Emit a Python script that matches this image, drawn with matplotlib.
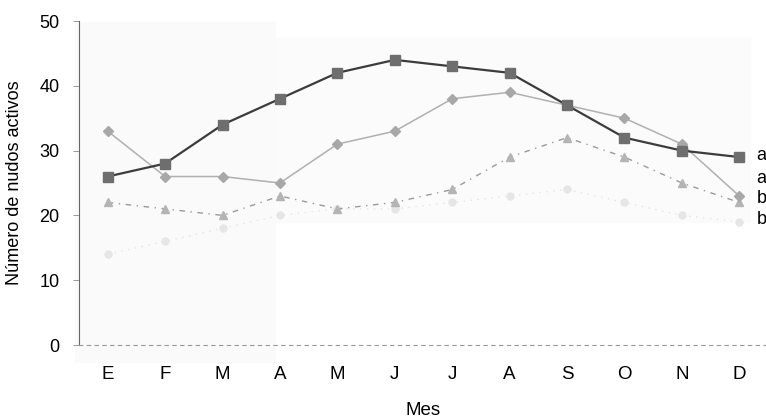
import matplotlib.pyplot as plt
from matplotlib.patches import Rectangle

meses = ['E', 'F', 'M', 'A', 'M', 'J', 'J', 'A', 'S', 'O', 'N', 'D']

# series
serie_cuadros = [26, 28, 34, 38, 42, 44, 43, 42, 37, 32, 30, 29]
serie_rombos = [33, 26, 26, 25, 31, 33, 38, 39, 37, 35, 31, 23]
serie_triang = [22, 21, 20, 23, 21, 22, 24, 29, 32, 29, 25, 22]
serie_palida = [14, 16, 18, 20, 21, 21, 22, 23, 24, 22, 20, 19]
letras = ['a', 'a', 'b', 'b']

plt.rcParams['font.family'] = ['Liberation Sans', 'DejaVu Sans']

fig = plt.figure(figsize=(7.66, 4.18), dpi=100)
W, H = 766, 418

# faint grey of the scan behind the plot
fig.patches.append(Rectangle((75 / W, 1 - 362 / H), 200 / W, 340 / H,
                             transform=fig.transFigure, color='#fafafa', zorder=-5))
fig.patches.append(Rectangle((275 / W, 1 - 222 / H), 475 / W, 184 / H,
                             transform=fig.transFigure, color='#fbfbfb', zorder=-5))

ax = fig.add_axes([79 / W, 1 - 345 / H, 689 / W, 324 / H])
ax.patch.set_alpha(0)

x = list(range(len(meses)))
ax.plot(x, serie_palida, color='#e4e4e4', lw=1.0, ls=(0, (1, 4)),
        marker='o', ms=5, mfc='#e6e6e6', mec='#e6e6e6', zorder=2)
ax.plot(x, serie_triang, color='#9a9a9a', lw=1.0, ls=(0, (4, 4, 1, 4)),
        marker='^', ms=6, mfc='#b4b4b4', mec='#b4b4b4', zorder=3)
ax.plot(x, serie_rombos, color='#b0b0b0', lw=1.1,
        marker='D', ms=5.5, mfc='#a8a8a8', mec='#a8a8a8', zorder=4)
ax.plot(x, serie_cuadros, color='#3c3c3c', lw=1.6,
        marker='s', ms=7, mfc='#6e6e6e', mec='#6e6e6e', zorder=5)

# significance letters at the right edge
for yv, s in zip([29.2, 25.7, 22.6, 19.4], letras):
    ax.text(11.3, yv, s, fontsize=13, va='center', ha='left', clip_on=False)

ax.set_xlim(-0.5, 11.5)
ax.set_ylim(0, 50)
ax.set_yticks([0, 10, 20, 30, 40, 50])
ax.set_xticks(x)
ax.set_xticklabels(meses)
ax.tick_params(axis='x', length=0, pad=15, labelsize=13.5)
ax.tick_params(axis='y', length=4, width=0.6, pad=10, labelsize=13, color='#888888')

for side in ['top', 'right']:
    ax.spines[side].set_visible(False)
ax.spines['left'].set_color('#666666')
ax.spines['left'].set_linewidth(0.8)
ax.spines['bottom'].set_color('#999999')
ax.spines['bottom'].set_linewidth(0.8)
ax.spines['bottom'].set_linestyle((0, (3, 4)))

ax.set_xlabel('Mes', fontsize=13.5, labelpad=14)
ax.set_ylabel('Número de nudos activos', fontsize=13, labelpad=12)

fig.savefig('out.png', dpi=100)
